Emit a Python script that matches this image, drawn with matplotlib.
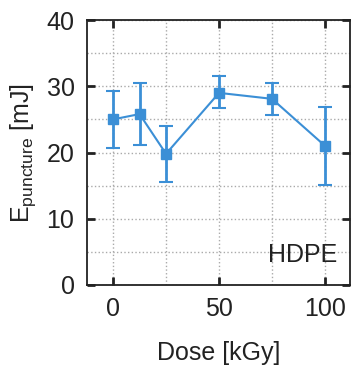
import matplotlib
matplotlib.use("Agg")
import matplotlib.pyplot as plt

dose = [0, 12.5, 25, 50, 75, 100]
energy = [25.0, 25.8, 19.8, 29.0, 28.1, 21.0]
err_hi = [29.3, 30.5, 24.0, 31.5, 30.5, 26.9]
err_lo = [20.7, 21.1, 15.6, 26.7, 25.6, 15.1]
xticks = [0, 50, 100]
yticks = [0, 10, 20, 30, 40]

plt.rcParams['font.family'] = ['Liberation Sans', 'DejaVu Sans']
plt.rcParams['mathtext.fontset'] = 'custom'
plt.rcParams['mathtext.rm'] = 'Liberation Sans'
plt.rcParams['mathtext.it'] = 'Liberation Sans'

fig = plt.figure(figsize=(3.51, 3.70), dpi=100)
ax = fig.add_axes([87/351, 1-285/370, (350-87)/351, (285-20)/370])

color = '#3b8fd6'
yerr = [[e - l for e, l in zip(energy, err_lo)], [h - e for e, h in zip(energy, err_hi)]]
ax.errorbar(dose, energy, yerr=yerr, color=color, marker='s', markersize=7.5,
            linewidth=1.5, elinewidth=2, capsize=4.7, capthick=1.5, zorder=3)

ax.set_xlim(-12.3, 111.8)
ax.set_ylim(0, 40)
ax.set_xticks(xticks)
ax.set_yticks(yticks)
ax.set_xticks([25, 75], minor=True)
ax.set_yticks([5, 15, 25, 35], minor=True)
ax.grid(True, which='both', linestyle=':', color='#aaaaaa', linewidth=1.0)
ax.tick_params(axis='both', which='major', direction='in', length=6, width=2,
               top=True, right=True, labelsize=18, colors='#222222')
ax.tick_params(axis='x', which='major', pad=9)
ax.tick_params(axis='y', which='major', pad=9)
ax.tick_params(axis='both', which='minor', length=0)
for s in ax.spines.values():
    s.set_linewidth(1.3)
    s.set_color('#222222')

ax.set_xlabel('Dose [kGy]', fontsize=18, labelpad=14, color='#222222')
ax.set_ylabel(r'E$_{\mathrm{puncture}}$ [mJ]', fontsize=18, labelpad=6, color='#222222')
ax.text(0.95, (285-255)/265, 'HDPE', transform=ax.transAxes, fontsize=18,
        ha='right', va='center', color='#222222')

fig.savefig('out.png', dpi=100)
